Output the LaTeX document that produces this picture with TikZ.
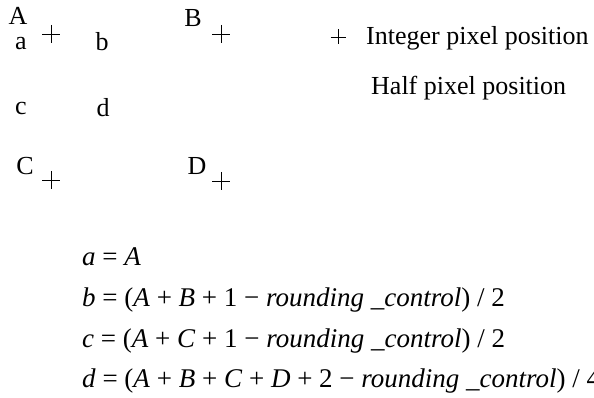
\documentclass[tikz,border=0pt]{standalone}
\usepackage{fontspec}
\setmainfont{Liberation Serif}
\usepackage{tikz}
\usetikzlibrary{positioning}

\tikzset{
  pixlabel/.style={inner sep=0pt, anchor=base, font=\fontsize{26}{30}\selectfont},
  keylabel/.style={inner sep=0pt, anchor=base west, font=\fontsize{26}{30}\selectfont},
  eqline/.style={inner sep=0pt, anchor=base west, font=\fontsize{27}{31}\selectfont},
  crossline/.style={line width=0.75pt}
}

\begin{document}
\begin{tikzpicture}[x=1pt, y=-1pt]
  \useasboundingbox (0,0) rectangle (594,398);
  % integer positions
  \coordinate (pA) at (51,34);
  \coordinate (pB) at (221,34);
  \coordinate (pC) at (51,180);
  \coordinate (pD) at (221,181);
  \coordinate (pKey) at (338,37);
  \foreach \p in {pA,pB,pC,pD}
    \draw[crossline] (\p) +(-9,0) -- +(9,0) (\p) +(0,-9) -- +(0,9);
  \draw[crossline] (pKey) +(-7.5,0) -- +(7.5,0) (pKey) +(0,-7.5) -- +(0,7.5);

  \node[pixlabel] (lA) at (18,25) {A};
  \node[pixlabel] (lB) at (193,27) {B};
  \node[pixlabel] (lC) at (25,175) {C};
  \node[pixlabel] (lD) at (197,175) {D};
  % half pixel positions
  \node[pixlabel] (la) at (21,50) {a};
  \node[pixlabel] (lb) at (102,51) {b};
  \node[pixlabel] (lc) at (21,115) {c};
  \node[pixlabel] (ld) at (103,117) {d};

  % legend
  \node[keylabel] (keyint) at (366,45) {Integer pixel position};
  \node[keylabel] (keyhalf) at (371,95) {Half pixel position};

  % equations
  \node[eqline] (eqa) at (82,265) {\textit{a} = \textit{A}};
  \node[eqline] (eqb) at (82,306) {\textit{b} = (\textit{A} + \textit{B} + 1 − \textit{rounding} \textit{\_control}) / 2};
  \node[eqline] (eqc) at (82,347) {\textit{c} = (\textit{A} + \textit{C} + 1 − \textit{rounding} \textit{\_control}) / 2};
  \node[eqline] (eqd) at (82,387) {\textit{d} = (\textit{A} + \textit{B} + \textit{C} + \textit{D} + 2 − \textit{rounding} \textit{\_control}) / 4};
\end{tikzpicture}
\end{document}
